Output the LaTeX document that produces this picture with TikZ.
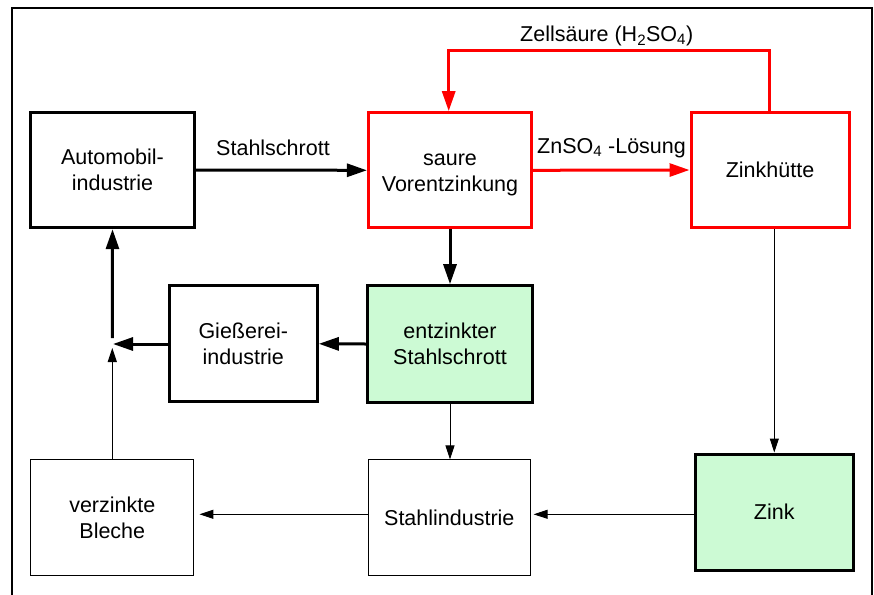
\documentclass[tikz,border=0pt]{standalone}
\usepackage{fontspec}
\setmainfont{Liberation Sans}
\usetikzlibrary{arrows.meta}
\definecolor{zincgreen}{RGB}{204,250,212}
% one text line whose box runs from cap height down to the baseline
\newcommand{\capline}[1]{\raisebox{0pt}[15.4pt][0pt]{#1}}

\begin{document}
\begin{tikzpicture}[x=1pt,y=-1pt,
  every node/.style={font=\fontsize{21.5}{26}\selectfont},
  box/.style={draw=black, line width=3pt, inner sep=0pt, align=center, anchor=center},
  thinbox/.style={box, line width=1pt},
  redbox/.style={box, draw=red},
  greenbox/.style={box, fill=zincgreen},
  label/.style={inner sep=0pt, anchor=base},
  bigflow/.style={line width=3pt, -{Triangle[length=20pt,width=13pt]}},
  redflow/.style={bigflow, draw=red, color=red},
  smallflow/.style={line width=1pt, -{Triangle[length=14pt,width=9pt]}},
]
\useasboundingbox (0,0) rectangle (874,594);

% outer frame (open at the bottom)
\draw[line width=2pt] (12.3,600) -- (12.3,8) -- (872.3,8) -- (872.3,600);

% boxes
\node[box, minimum width=163.6pt, minimum height=115.4pt] (auto) at (112.5,170)
  {\capline{Automobil-}\\\capline{industrie}};
\node[redbox, minimum width=163.2pt, minimum height=115.3pt] (saure) at (450,170.3)
  {\capline{saure}\\\capline{Vorentzinkung}};
\node[redbox, minimum width=158pt, minimum height=114.6pt] (huette) at (770,170)
  {\capline{Zinkhütte}};
\node[box, minimum width=148pt, minimum height=115.7pt] (giess) at (243.3,343.8)
  {\capline{Gießerei-}\\\capline{industrie}};
\node[greenbox, minimum width=165.4pt, minimum height=116.6pt] (entz) at (450,344)
  {\capline{entzinkter}\\\capline{Stahlschrott}};
\node[thinbox, minimum width=163.3pt, minimum height=116pt] (verz) at (112.3,517.3)
  {\capline{verzinkte}\\\capline{Bleche}};
\node[thinbox, minimum width=162.6pt, minimum height=115.7pt] (stahl) at (449.3,517.8)
  {\capline{Stahlindustrie}};
\node[greenbox, minimum width=158.3pt, minimum height=116pt] (zink) at (774.2,512)
  {\capline{Zink}};

% flow labels
\node[label] (lschrott) at (273,155.7) {Stahlschrott};
\node[label] (lznso) at (611.5,153) {ZnSO\textsubscript{4} -Lösung};
\node[label] (lsaeure) at (606.7,41.7) {Zellsäure (H\textsubscript{2}SO\textsubscript{4})};

% auxiliary points
\coordinate (jtop) at (112.3,338);
\coordinate (jmid) at (113,344);
\coordinate (jbot) at (112.3,348);
\coordinate (redR) at (769.3,50.7);
\coordinate (redL) at (448.7,50.7);
\coordinate (rowy) at (0,514.3);
\coordinate (dropx) at (774.3,0);

% red acid loop
\draw[redflow] (saure.east) -- (huette.west);
\draw[redflow] (huette.north -| redR) -- (redR) -- (redL) -- (saure.north -| redL);

% main scrap flows
\draw[bigflow] (auto.east) -- (saure.west);
\draw[bigflow] (saure.south) -- (entz.north);
\draw[bigflow] (entz.west) -- (giess.east);
\draw[bigflow] (giess.west |- jmid) -- (jmid);
\draw[bigflow] (jtop) -- (auto.south);

% secondary flows
\draw[smallflow] (verz.north -| jbot) -- (jbot);
\draw[smallflow] (entz.south) -- (stahl.north -| entz.south);
\draw[smallflow] (huette.south -| dropx) -- (zink.north -| dropx);
\draw[smallflow, shorten >=2.5pt] (zink.west |- rowy) -- (stahl.east |- rowy);
\draw[smallflow, shorten >=5pt] (stahl.west |- rowy) -- (verz.east |- rowy);
\end{tikzpicture}
\end{document}
